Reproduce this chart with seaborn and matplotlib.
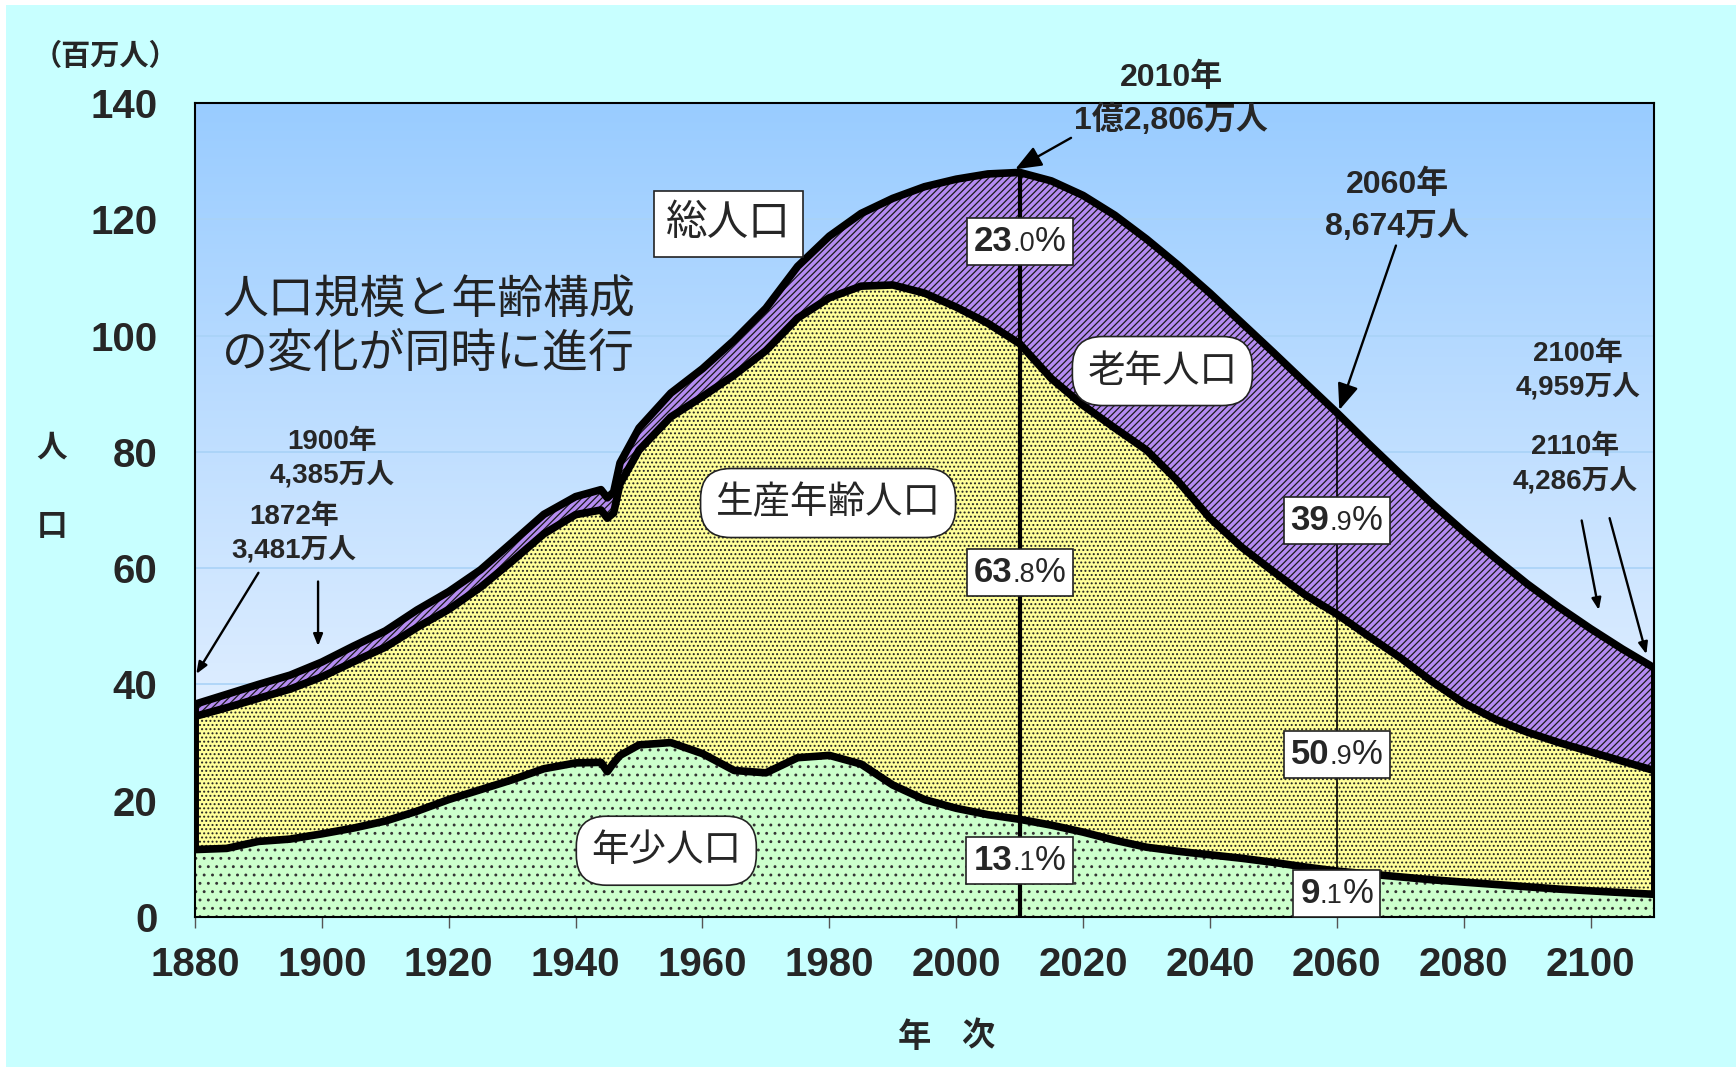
import numpy as np
import matplotlib
matplotlib.use("Agg")
import matplotlib.pyplot as plt
import seaborn as sns
from matplotlib.offsetbox import TextArea, HPacker, AnnotationBbox
from matplotlib.patches import Rectangle

# ---------------- data (million persons) ----------------
years = [1880, 1885, 1890, 1895, 1900, 1905, 1910, 1915, 1920, 1925, 1930, 1935,
         1940, 1944, 1945, 1946, 1947, 1950, 1955, 1960, 1965, 1970, 1975, 1980,
         1985, 1990, 1995, 2000, 2005, 2010, 2015, 2020, 2025, 2030, 2035, 2040,
         2045, 2050, 2055, 2060, 2065, 2070, 2075, 2080, 2085, 2090, 2095, 2100,
         2105, 2110]
total = [36.6, 38.3, 40.0, 41.6, 43.85, 46.6, 49.2, 52.8, 55.96, 59.7, 64.45, 69.25,
         72.3, 73.5, 72.1, 73.1, 78.1, 84.1, 90.1, 94.3, 99.2, 104.7, 111.9, 117.1,
         121.0, 123.6, 125.6, 126.9, 127.8, 128.06, 126.6, 124.1, 120.7, 116.6, 112.1, 107.3,
         102.2, 97.1, 91.9, 86.74, 81.4, 76.2, 71.1, 66.3, 61.7, 57.3, 53.3, 49.59,
         46.1, 42.86]
young_plus_working = [34.5, 36.0, 37.6, 39.2, 41.3, 43.9, 46.4, 49.8, 52.9, 56.7, 61.2, 65.9,
                      69.2, 70.0, 68.6, 69.5, 74.5, 80.3, 86.0, 89.5, 93.2, 97.4, 103.0, 106.5,
                      108.5, 108.7, 107.3, 104.9, 102.1, 98.6, 92.6, 88.0, 84.1, 80.3, 74.9, 68.6,
                      63.6, 59.4, 55.4, 52.1, 48.3, 44.6, 40.5, 36.8, 34.0, 31.8, 30.0, 28.4,
                      26.8, 25.2]
young = [11.6, 11.8, 13.0, 13.4, 14.3, 15.3, 16.5, 18.2, 20.2, 21.9, 23.6, 25.5,
         26.5, 26.6, 25.0, 26.5, 27.8, 29.6, 30.0, 28.1, 25.2, 24.8, 27.4, 27.8,
         26.3, 22.7, 20.2, 18.7, 17.6, 16.8, 15.8, 14.6, 13.2, 12.0, 11.3, 10.7,
         10.1, 9.4, 8.6, 7.9, 7.4, 6.9, 6.4, 6.0, 5.6, 5.2, 4.8, 4.5,
         4.2, 3.9]

x_ticks = [1880, 1900, 1920, 1940, 1960, 1980, 2000, 2020, 2040, 2060, 2080, 2100]
y_ticks = [0, 20, 40, 60, 80, 100, 120, 140]

# percentages: (year, y position, integer part, decimal)
pct_labels = [(2010, 116.2, "23", "0"), (2010, 59.2, "63", "8"), (2010, 9.7, "13", "1"),
              (2060, 68.2, "39", "9"), (2060, 28.0, "50", "9"), (2060, 4.0, "9", "1")]

# ---------------- style ----------------
sns.set_style("white")
CJK = ['Noto Sans CJK JP', 'DejaVu Sans']
NUM = ['Liberation Sans', 'Noto Sans CJK JP', 'DejaVu Sans']
plt.rcParams['font.family'] = NUM
plt.rcParams['hatch.linewidth'] = 0.9

FIG_BG = '#C8FFFF'
fig = plt.figure(figsize=(17.36, 10.67), dpi=100, facecolor=FIG_BG)
# thin white border strips (top, left)
fig.patches.append(Rectangle((0, 1 - 5 / 1067), 1, 5 / 1067, transform=fig.transFigure,
                             fc='white', ec='none', zorder=-1))
fig.patches.append(Rectangle((0, 0), 6 / 1736, 1, transform=fig.transFigure,
                             fc='white', ec='none', zorder=-1))

ax = fig.add_axes([195 / 1736, 1 - 917 / 1067, 1459 / 1736, 814 / 1067])

# gradient background
top_c = np.array([153, 204, 255]) / 255
bot_c = np.array([246, 249, 255]) / 255
t = np.linspace(0, 1, 256)[:, None]
grad = bot_c[None, :] * (1 - t) + top_c[None, :] * t
grad = np.repeat(grad[:, None, :], 2, axis=1)
ax.imshow(grad, extent=[1880, 2110, 0, 140], aspect='auto', origin='lower', zorder=0,
          interpolation='bilinear')

for yv in y_ticks[1:-1]:
    ax.axhline(yv, color='#A9D2F7', lw=1.2, zorder=0.5)

# areas
ax.fill_between(years, 0, young, facecolor='#CCFFCC', edgecolor='#333333',
                hatch='..', linewidth=0, zorder=1)
ax.fill_between(years, young, young_plus_working, facecolor='#FFFF99', edgecolor='#222222',
                hatch='....', linewidth=0, zorder=1)
ax.fill_between(years, young_plus_working, total, facecolor='#B58CF2', edgecolor='#1a1a1a',
                hatch='/////', linewidth=0, zorder=1)

# vertical reference lines
ax.vlines(2010, 0, total[years.index(2010)], color='black', lw=3, zorder=3)
ax.vlines(2060, 0, total[years.index(2060)], color='black', lw=1.2, zorder=3)

# boundary lines
for series in (total, young_plus_working, young):
    sns.lineplot(x=years, y=series, color='black', lw=5.5, ax=ax, sort=False,
                 zorder=4, solid_joinstyle='round', solid_capstyle='butt')
ax.vlines(1880, young[0], total[0], color='black', lw=5, zorder=4)
ax.vlines(2110, young[-1], total[-1], color='black', lw=5, zorder=4)

ax.set_xlim(1880, 2110)
ax.set_ylim(0, 140)
ax.set_xticks(x_ticks)
ax.set_yticks(y_ticks)
ax.set_xticklabels([str(v) for v in x_ticks], fontsize=29, fontweight='bold')
ax.set_yticklabels([str(v) for v in y_ticks], fontsize=29, fontweight='bold')
ax.tick_params(axis='x', direction='out', length=8, width=1, color='#555555', pad=13,
               bottom=True)
ax.tick_params(axis='y', length=0, pad=27)
for sp in ax.spines.values():
    sp.set_color('black')
    sp.set_linewidth(1.5)
    sp.set_zorder(5)
ax.set_xlabel('')
ax.set_ylabel('')

# percentage boxes with smaller decimals
def pct_box(x, y, whole, dec, fs=25):
    parts = [TextArea(whole, textprops=dict(fontsize=fs, fontweight='bold', family=NUM)),
             TextArea('.' + dec, textprops=dict(fontsize=fs * 0.78, family=NUM)),
             TextArea('%', textprops=dict(fontsize=fs, family=NUM))]
    pack = HPacker(children=parts, align='baseline', pad=0, sep=0)
    ab = AnnotationBbox(pack, (x, y), xycoords='data', frameon=True, pad=0.3,
                        bboxprops=dict(boxstyle='square,pad=0.5', fc='white', ec='#222222',
                                       lw=1.2), zorder=6)
    ax.add_artist(ab)

for (px, py, w, d) in pct_labels:
    pct_box(px, py, w, d)

# category labels
ax.text(1964.1, 119.2, '総人口', fontsize=30, family=CJK, ha='center', va='center',
        zorder=7, bbox=dict(boxstyle='square,pad=0.3', fc='white', ec='#222222', lw=1.2))
rb = dict(boxstyle='round,pad=0.4,rounding_size=0.8', fc='white', ec='#222222', lw=1.2)
ax.text(2032.5, 93.9, '老年人口', fontsize=27, family=CJK, ha='center', va='center',
        zorder=7, bbox=rb)
ax.text(1979.8, 71.2, '生産年齢人口', fontsize=27, family=CJK, ha='center', va='center',
        zorder=7, bbox=rb)
ax.text(1954.3, 11.4, '年少人口', fontsize=27, family=CJK, ha='center', va='center',
        zorder=7, bbox=rb)

ax.text(1884.3, 101.5, '人口規模と年齢構成\nの変化が同時に進行', fontsize=33, family=CJK,
        color='#222222', ha='left', va='center', linespacing=1.15, zorder=7)

# annotations
txt_kw = dict(family=NUM, fontweight='bold', ha='center', va='center', zorder=8,
              clip_on=False)
ann_kw = dict(family=NUM, fontweight='bold', ha='center', va='center', zorder=8,
              annotation_clip=False)
arrow = dict(arrowstyle='-|>,head_length=0.7,head_width=0.28', color='black', lw=1.7,
             shrinkA=0, shrinkB=0)

ax.text(2033.9, 144.4, '2010年', fontsize=23, **txt_kw)
ax.annotate('1億2,806万人', xy=(2009.3, 128.6), xytext=(2033.9, 137.1),
            fontsize=23, arrowprops=dict(arrow, relpos=(0.0, 0.0)), **ann_kw)
ax.annotate('2060年\n8,674万人', xy=(2060.4, 87.2), xytext=(2069.5, 122.3),
            fontsize=23, linespacing=1.45, arrowprops=dict(arrow, relpos=(0.5, 0.0)),
            **ann_kw)
ax.text(2098.0, 93.9, '2100年\n4,959万人', fontsize=20, linespacing=1.35, **txt_kw)
ax.text(2097.6, 77.8, '2110年\n4,286万人', fontsize=20, linespacing=1.35, **txt_kw)
ax.annotate('', xy=(2101.3, 52.8), xytext=(2098.6, 68.2), arrowprops=arrow,
            annotation_clip=False, zorder=8)
ax.annotate('', xy=(2108.8, 45.2), xytext=(2103.0, 68.6), arrowprops=arrow,
            annotation_clip=False, zorder=8)
ax.text(1901.6, 78.7, '1900年\n4,385万人', fontsize=20, linespacing=1.35, **txt_kw)
ax.annotate('', xy=(1899.4, 46.6), xytext=(1899.4, 57.7), arrowprops=arrow,
            annotation_clip=False, zorder=8)
ax.text(1895.6, 65.8, '1872年\n3,481万人', fontsize=20, linespacing=1.35, **txt_kw)
ax.annotate('', xy=(1880.2, 41.8), xytext=(1890.0, 59.2), arrowprops=arrow,
            annotation_clip=False, zorder=8)

# axis titles
fig.text(105 / 1736, 1 - 56 / 1067, '（百万人）', fontsize=21, fontweight='bold',
         family=CJK, ha='center', va='center')
fig.text(52 / 1736, 1 - 448 / 1067, '人', fontsize=22, fontweight='bold', family=CJK,
         ha='center', va='center')
fig.text(52 / 1736, 1 - 526 / 1067, '口', fontsize=22, fontweight='bold', family=CJK,
         ha='center', va='center')
fig.text(914 / 1736, 1 - 1037 / 1067, '年', fontsize=24, fontweight='bold', family=CJK,
         ha='center', va='center')
fig.text(978 / 1736, 1 - 1037 / 1067, '次', fontsize=24, fontweight='bold', family=CJK,
         ha='center', va='center')

fig.savefig('out.png', dpi=100, facecolor=FIG_BG)
